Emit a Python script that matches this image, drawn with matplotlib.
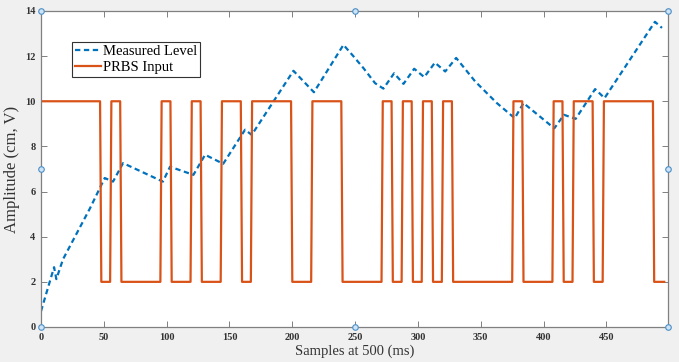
import numpy as np
import matplotlib
matplotlib.use("Agg")
import matplotlib.pyplot as plt

# PRBS input: level starts high and toggles at these sample indices
prbs_high = 10
prbs_low = 2
prbs_switches = [48, 56, 64, 96, 104, 120, 128, 144, 160, 168, 200, 216, 240,
                 272, 280, 288, 296, 304, 312, 320, 328, 376, 384, 408, 416,
                 424, 440, 448, 488]
n_samples = 497

# measured level, turning points
meas_x = [0, 10.4, 12.2, 17.5, 39, 50.7, 57.3, 65.3, 97, 102.7, 121.3, 130.6,
          145, 162.4, 167.7, 200.9, 217.2, 240.7, 248.7, 256.6, 265.9, 272.5,
          281, 288.5, 297, 305, 313.5, 321.7, 330.4, 345.5, 362.8, 377, 384,
          408.5, 416.2, 425.5, 441, 448.5, 488.6, 494.2]
meas_y = [0.7, 2.65, 2.12, 3.0, 5.26, 6.6, 6.44, 7.26, 6.44, 7.1, 6.74, 7.63,
          7.23, 8.74, 8.51, 11.35, 10.4, 12.5, 11.99, 11.47, 10.8, 10.56,
          11.24, 10.77, 11.44, 11.07, 11.71, 11.32, 11.92, 10.88, 9.92, 9.25,
          9.92, 8.8, 9.4, 9.22, 10.54, 10.14, 13.52, 13.25]

xticks = [0, 50, 100, 150, 200, 250, 300, 350, 400, 450]
yticks = [0, 2, 4, 6, 8, 10, 12, 14]

# build PRBS sample series
samples = np.arange(n_samples)
state = np.zeros(n_samples, dtype=int)
for s in prbs_switches:
    state[s:] += 1
prbs = np.where(state % 2 == 0, prbs_high, prbs_low)

plt.rcParams['font.family'] = ['Liberation Serif', 'DejaVu Serif']

fig = plt.figure(figsize=(6.79, 3.62), dpi=100, facecolor='#f0f0f0')
ax = fig.add_axes([0.0604, 0.0967, 0.9234, 0.873])
ax.set_facecolor('white')

ax.plot(meas_x, meas_y, linestyle=(0, (2.4, 1.6)), color='#0072BD',
        linewidth=1.6, label='Measured Level')
ax.plot(samples, prbs, color='#D95319', linewidth=1.6, label='PRBS Input')

ax.set_xlim(0, 499)
ax.set_ylim(0, 14)
ax.set_xticks(xticks)
ax.set_yticks(yticks)
ax.tick_params(direction='in', length=4, width=0.7, color='#808080',
               top=True, right=True, labelsize=7.5, pad=4)
for lab in ax.get_xticklabels() + ax.get_yticklabels():
    lab.set_fontweight('bold')
    lab.set_color('#333333')
for sp in ax.spines.values():
    sp.set_color('#808080')
    sp.set_linewidth(0.9)

ax.set_xlabel('Samples at 500 (ms)', fontsize=10.5, color='#333333')
ax.set_ylabel('Amplitude (cm, V)', fontsize=12, color='#333333')
ax.xaxis.set_label_coords(0.5, -0.055)
ax.yaxis.set_label_coords(-0.033, 0.5)

leg = ax.legend(loc='upper left', bbox_to_anchor=(0.049, 0.902),
                fontsize=10.5, handlelength=1.8, handletextpad=0.15,
                labelspacing=0.2, borderpad=0.2, borderaxespad=0,
                fancybox=False, framealpha=1)
leg.get_frame().set_edgecolor('#333333')
leg.get_frame().set_linewidth(0.8)

# selection handles around the axes
hx = [0, 0.5, 1, 0, 1, 0, 0.5, 1]
hy = [0, 0, 0, 0.5, 0.5, 1, 1, 1]
ax.plot(hx, hy, 'o', transform=ax.transAxes, clip_on=False, markersize=4,
        markerfacecolor='#cfe3f5', markeredgecolor='#4a90c8',
        markeredgewidth=0.8, zorder=5)

fig.savefig('out.png', dpi=100, facecolor=fig.get_facecolor())
